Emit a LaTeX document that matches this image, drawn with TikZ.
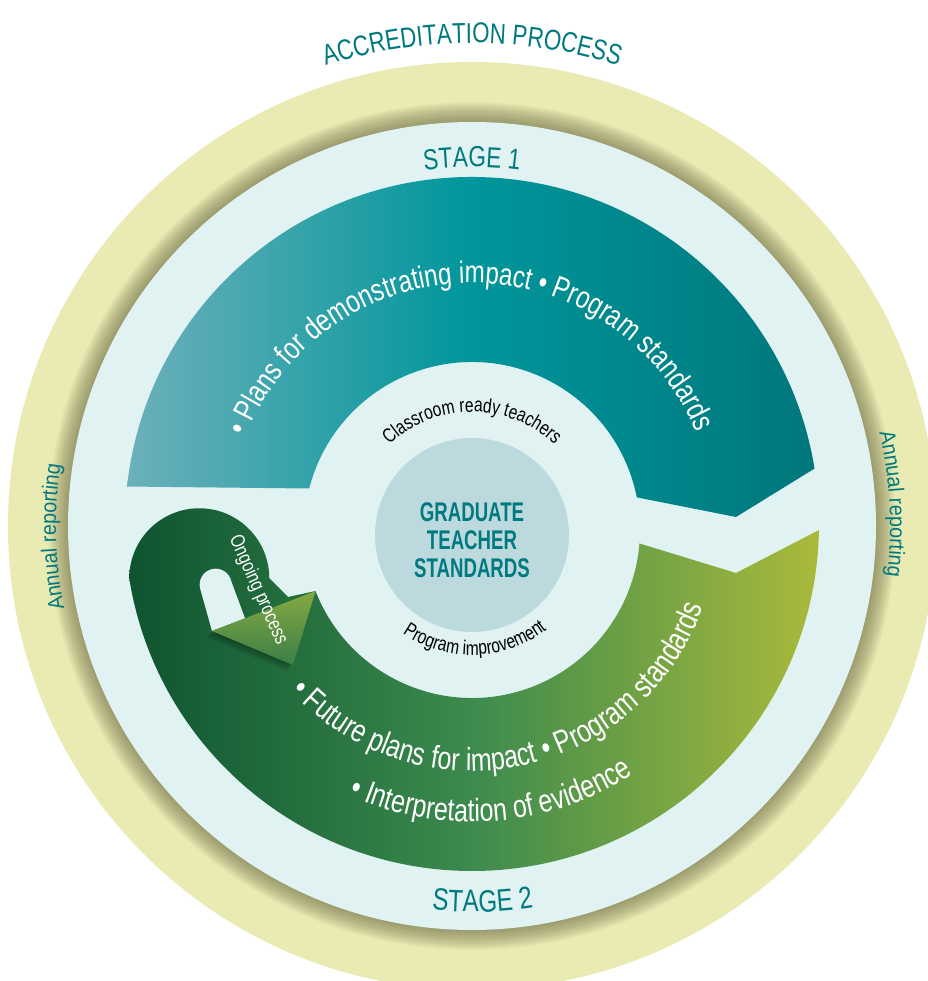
\documentclass[tikz,border=0pt]{standalone}
\usepackage{fontspec}
\setmainfont{Liberation Sans}
\newfontfamily\condfont[FakeStretch=0.78]{Liberation Sans}
\newfontfamily\gtsfont[FakeStretch=0.69]{Liberation Sans}
\newfontfamily\ringfont[FakeStretch=0.9]{Liberation Sans}
\usetikzlibrary{decorations.text}
\definecolor{ringyellow}{HTML}{E9EBB3}
\definecolor{ringshade}{HTML}{6E6A45}
\definecolor{palecyan}{HTML}{E1F2F2}
\definecolor{hubcol}{HTML}{BCDADD}
\definecolor{tealtext}{HTML}{007A80}
\definecolor{tealA}{HTML}{6CB0BA}
\definecolor{tealB}{HTML}{00969B}
\definecolor{tealC}{HTML}{00777C}
\definecolor{greenA}{HTML}{0E5430}
\definecolor{greenB}{HTML}{3D8B4E}
\definecolor{greenC}{HTML}{AABA3A}
\definecolor{arrowA}{HTML}{86A843}
\definecolor{arrowB}{HTML}{3A8046}
\newcommand{\accfmt}{\condfont\fontsize{28.6}{28.6}\selectfont\color{tealtext}}
\newcommand{\stagefmt}{\condfont\fontsize{29}{29}\selectfont\color{tealtext}}
\newcommand{\stagefmtb}{\condfont\fontsize{31}{31}\selectfont\color{tealtext}}
\newcommand{\ringfmt}{\ringfont\fontsize{22}{22}\selectfont\color{tealtext}}
\newcommand{\bandfmt}{\condfont\fontsize{31}{31}\selectfont\color{white}}
\newcommand{\bandfmtb}{\condfont\fontsize{32}{32}\selectfont\color{white}}
\newcommand{\hubfmt}{\condfont\fontsize{20}{20}\selectfont\color{black}}
\tikzstyle{gts} = [align=center, inner sep=0pt, font=\gtsfont\bfseries\fontsize{27}{28}\selectfont, text=tealtext]
\tikzstyle{ongoing} = [rotate=-66, inner sep=0pt, text=white, font=\condfont\fontsize{20}{20}\selectfont]
\tikzset{along/.style={decorate, decoration={text along path, text align=center, text={#1}}}}

\begin{document}
\begin{tikzpicture}[x=1pt, y=1pt]
    \useasboundingbox[fill=white] (0,0) rectangle (927,981);
    \coordinate (D) at (472,455);
    \coordinate (B) at (472,457);
    \coordinate (H) at (472,451);
    \coordinate (G) at (472,446);
    \coordinate (T) at (472,449);

    % outer ring and its shadow
    \fill[ringyellow] (D) circle[radius=464];
    \foreach \k in {1,...,20}
        \fill[ringshade, opacity=0.04] (D) circle[radius=404+\k];
    \fill[palecyan] (D) circle[radius=404];

    % stage 1
    \shade[left color=tealA, right color=tealC, middle color=tealB]
        ([shift={(173.8:347)}]B) arc[start angle=173.8, end angle=9.2, radius=347]
        -- (736,464) -- ([shift={(11.2:168)}]H) arc[start angle=11.2, end angle=165.7, radius=168] -- cycle;

    % stage 2 with the hook
    \shade[left color=greenA, right color=greenC, middle color=greenB]
        ([shift={(-1:347)}]B) arc[start angle=-1, end angle=-171, radius=347]
        arc[start angle=180, end angle=0, radius=70]
        -- (288,384) -- ([shift={(201.3:168)}]H) arc[start angle=201.3, end angle=355.4, radius=168]
        -- (736,408) -- cycle;
    \fill[palecyan] (212,350) -- (200,393) arc[start angle=192, end angle=12, radius=16] -- (245,362.7) -- cycle;
    \foreach \s in {2,4,6}
        \fill[black, opacity=0.1] (212-\s,350-\s) -- (315.5-\s,389.9-\s) -- (293-\s,316-\s) -- cycle;
    \shade[top color=arrowA, bottom color=arrowB] (212,350) -- (315.5,389.9) -- (293,316) -- cycle;

    \fill[hubcol] (G) circle[radius=97];

    \path[along={|\accfmt|ACCREDITATION PROCESS}] ([shift={(120:483)}]D) arc[start angle=120, end angle=60, radius=483];
    \path[along={|\stagefmt|STAGE 1}] ([shift={(120:359)}]D) arc[start angle=120, end angle=60, radius=359];
    \path[along={|\stagefmtb|STAGE 2}] ([shift={(-120:386)}]D) arc[start angle=-120, end angle=-56.8, radius=386];
    \path[along={|\ringfmt|Annual reporting}] ([shift={(200:416)}]D) arc[start angle=200, end angle=163, radius=416];
    \path[along={|\ringfmt|Annual reporting}] ([shift={(21.5:418)}]D) arc[start angle=21.5, end angle=-15.5, radius=418];
    \path[along={|\bandfmt|• Plans for demonstrating impact • Program standards}] ([shift={(175:243)}]D) arc[start angle=175, end angle=6, radius=243];
    \path[along={|\bandfmtb|• Future plans for impact • Program standards}] ([shift={(-160:245)}]D) arc[start angle=-160, end angle=3, radius=245];
    \path[along={|\bandfmtb|• Interpretation of evidence}] ([shift={(-130:296)}]D) arc[start angle=-130, end angle=-41.6, radius=296];
    \path[along={|\hubfmt|Classroom ready teachers}] ([shift={(150:120)}]T) arc[start angle=150, end angle=30, radius=120];
    \path[along={|\hubfmt|Program improvement}] ([shift={(-150:123)}]T) arc[start angle=-150, end angle=-26.8, radius=123];

    \node (gtstext) [gts] at (472,440.6) {GRADUATE\\TEACHER\\STANDARDS};
    \node (ongoingtext) [ongoing] at (258,391) {Ongoing process};
\end{tikzpicture}
\end{document}
